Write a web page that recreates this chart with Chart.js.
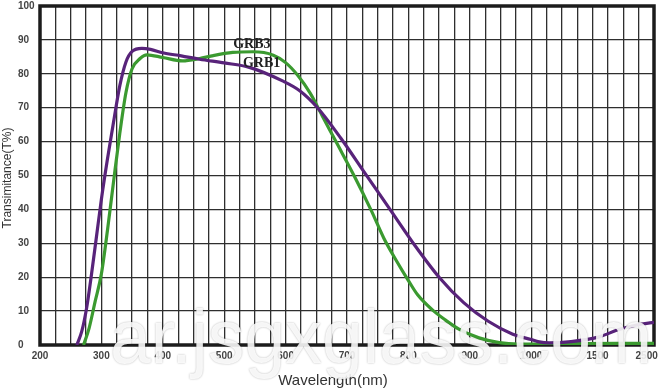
<!DOCTYPE html>
<html>
<head>
<meta charset="utf-8">
<script src="https://cdn.jsdelivr.net/npm/chart.js@4.4.1/dist/chart.umd.min.js"></script>
<style>
  html,body{margin:0;padding:0;background:#fff;}
</style>
</head>
<body>
<canvas id="c" width="660" height="390"></canvas>
<script>
// transmittance curves
const grb1Nm = [260, 268, 276, 284, 292, 300, 310, 320, 330, 340, 350, 366, 380, 400, 430, 460, 500, 541, 595, 623, 652, 690, 730, 770, 810, 850, 890, 930, 970, 1000, 1050, 1137, 1300, 1536, 1900, 2146, 2400, 2650];
const grb1T  = [0, 4, 11, 21, 32, 43, 55, 66, 76.5, 83.5, 86.6, 87.5, 87.2, 86.2, 85.3, 84.3, 83.2, 81.9, 77.9, 75, 70, 61, 50.5, 40, 29.5, 20, 12.5, 7, 3.2, 1.6, 1, 0.6, 1, 2.4, 4.4, 5.4, 6.2, 6.7];

const grb3Nm = [271, 280, 290, 300, 310, 320, 330, 340, 350, 363, 374, 400, 432, 460, 480, 514, 547, 580, 600, 620, 640, 660, 682, 712, 740, 760, 780, 800, 815, 840, 860, 883, 915, 948, 980, 1000, 1300, 1900, 2650];
const grb3T  = [0, 5, 13, 21, 34, 48.5, 62.5, 74.5, 81.5, 84.5, 85.6, 84.8, 83.8, 84.5, 85.3, 86.3, 86.5, 85.5, 83.3, 79.5, 74.3, 67.5, 60, 49.8, 39.5, 31.5, 25, 19, 14.8, 10.2, 7.4, 4.6, 2.1, 0.7, 0.3, 0.3, 0.4, 0.5, 0.5];

const xTickNm = [200, 300, 400, 500, 600, 700, 800, 900, 1000, 1500, 2500];
const yTicks  = [0, 10, 20, 30, 40, 50, 60, 70, 80, 90, 100];

// curve name labels drawn on the plot (nm, T%)
const curveNames = ['GRB3', 'GRB1'];
const curveNameNm = [545, 561];
const curveNameT  = [88.8, 83.2];

// the scan squeezes the axis after 1000 nm, and 1500/2500 are not evenly spaced
function nmToAxis(nm){
  if(nm <= 1000) return nm;
  if(nm <= 1500) return 1000 + (nm - 1000) * 108 / 500;
  return 1108 + (nm - 1500) * 0.08;
}

const gridColor = '#2e2e2e';
const labelFont = {family:'"Liberation Sans", Arial, sans-serif', size:10, weight:'bold'};

// grid every 25 axis units, plus label-only ticks at 1500 / 2500
const gridVals = [];
for(let v=200; v<=1200; v+=25) gridVals.push(v);
const labelAt = {};
xTickNm.forEach(nm => { labelAt[nmToAxis(nm)] = String(nm); });
const xTickVals = Array.from(new Set(gridVals.concat(xTickNm.map(nmToAxis)))).sort((a,b)=>a-b);

function pts(nms, ts){ return nms.map((nm,i)=>({x:nmToAxis(nm), y:ts[i]})); }

const framePlugin = {
  id:'frame',
  beforeDatasetsDraw(chart){
    const {ctx, chartArea:a} = chart;
    ctx.save();
    ctx.strokeStyle = '#1c1c1c';
    ctx.lineWidth = 3.5;
    ctx.strokeRect(a.left, a.top, a.right - a.left, a.bottom - a.top);
    ctx.restore();
  },
  afterDraw(chart){
    const {ctx, scales} = chart;
    ctx.save();
    // curve names
    ctx.fillStyle = '#222';
    ctx.font = 'bold 14px "Liberation Serif", "Times New Roman", serif';
    ctx.textAlign = 'center';
    ctx.textBaseline = 'middle';
    curveNames.forEach((n,i)=>{
      ctx.fillText(n, scales.x.getPixelForValue(nmToAxis(curveNameNm[i])), scales.y.getPixelForValue(curveNameT[i]));
    });
    // axis titles
    ctx.fillStyle = '#333';
    ctx.font = '15px "Liberation Sans", Arial, sans-serif';
    ctx.fillText('Wavelength(nm)', 333, 381);
    ctx.save();
    ctx.translate(8, 178);
    ctx.rotate(-Math.PI/2);
    ctx.font = '12px "Liberation Sans", Arial, sans-serif';
    ctx.fillText('Transimitance(T%)', 0, 0);
    ctx.restore();
    // site watermark over the scan
    ctx.font = '76px "Liberation Sans", Arial, sans-serif';
    ctx.textAlign = 'left';
    ctx.textBaseline = 'alphabetic';
    const wm = 'ar.jsgxglass.com';
    const w = ctx.measureText(wm).width;
    ctx.translate(110, 363);
    ctx.scale(542 / w, 1);
    ctx.shadowColor = 'rgba(0,0,0,0.35)';
    ctx.shadowBlur = 2;
    ctx.fillStyle = 'rgba(255,255,255,0.88)';
    ctx.fillText(wm, 0, 0);
    ctx.restore();
  }
};

new Chart(document.getElementById('c'), {
  type:'line',
  data:{
    datasets:[
      { label:'GRB1', data:pts(grb1Nm, grb1T), borderColor:'#58237a', borderWidth:3.2,
        pointRadius:0, cubicInterpolationMode:'monotone', fill:false },
      { label:'GRB3', data:pts(grb3Nm, grb3T), borderColor:'#3b9a30', borderWidth:3.2,
        pointRadius:0, cubicInterpolationMode:'monotone', fill:false }
    ]
  },
  options:{
    responsive:false,
    animation:false,
    devicePixelRatio:1,
    layout:{ padding:{left:18, right:6, top:5, bottom:0} },
    plugins:{ legend:{display:false}, tooltip:{enabled:false} },
    scales:{
      x:{
        type:'linear', min:200, max:1200,
        afterBuildTicks: s => { s.ticks = xTickVals.map(v => ({value:v})); },
        afterFit: s => { s.height = 45; },
        border:{display:false},
        grid:{
          color: c => (c.tick && c.tick.value % 25 === 0) ? gridColor : 'rgba(0,0,0,0)',
          lineWidth:1.3, drawTicks:false
        },
        ticks:{
          autoSkip:false, maxRotation:0, padding:5, color:'#444', font:labelFont,
          callback: v => labelAt[v] || ''
        }
      },
      y:{
        min:0, max:100,
        afterBuildTicks: s => { s.ticks = yTicks.map(v => ({value:v})); },
        afterFit: s => { s.width = 22; },
        border:{display:false},
        grid:{ color:gridColor, lineWidth:1.3, drawTicks:false },
        ticks:{ crossAlign:'far', padding:0, color:'#444', font:labelFont }
      }
    }
  },
  plugins:[framePlugin]
});
</script>
</body>
</html>
